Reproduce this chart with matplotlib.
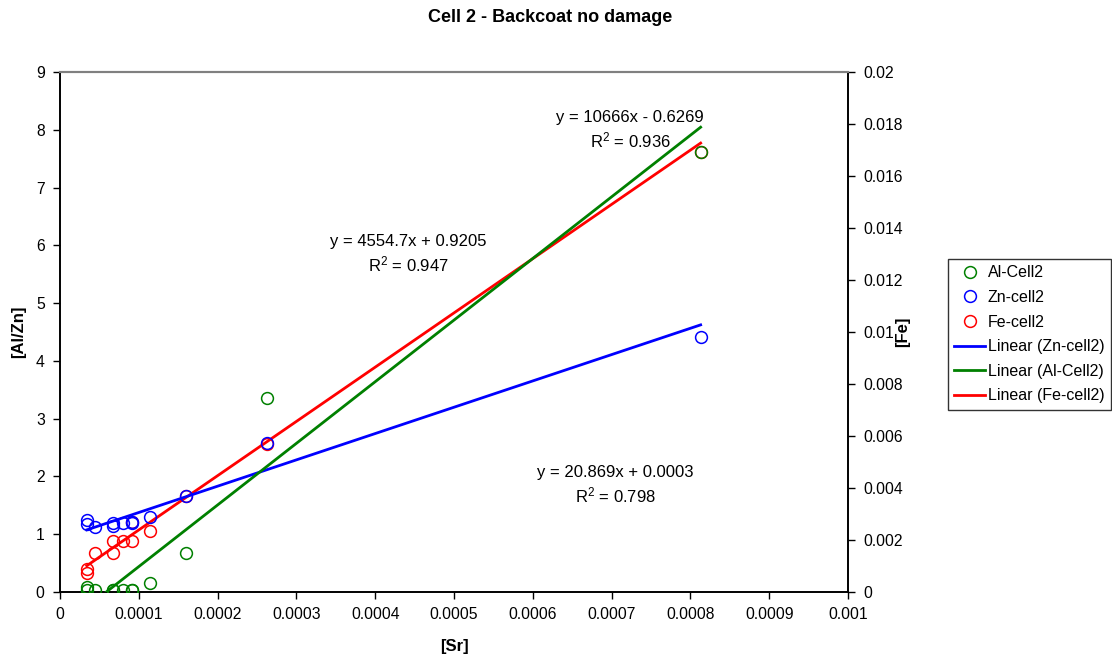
import numpy as np
import matplotlib
matplotlib.use("Agg")
import matplotlib.pyplot as plt
from matplotlib.lines import Line2D
from matplotlib.ticker import FuncFormatter, MultipleLocator

plt.rcParams['font.family'] = ['Liberation Sans', 'DejaVu Sans']
plt.rcParams['mathtext.default'] = 'regular'

# ---- data ----
sr = [3.4e-5, 3.4e-5, 4.5e-5, 6.7e-5, 6.7e-5, 8.0e-5, 9.1e-5, 9.1e-5,
      1.14e-4, 1.6e-4, 2.63e-4, 8.13e-4]
al = [0.09, 0.04, 0.04, 0.04, 0.04, 0.04, 0.04, 0.04, 0.16, 0.67, 3.36, 7.62]
zn = [1.25, 1.18, 1.13, 1.19, 1.15, 1.19, 1.22, 1.20, 1.30, 1.67, 2.58, 4.41]
fe = [0.00073, 0.00088, 0.0015, 0.0015, 0.00196, 0.00196, 0.00196, 0.00269,
      0.00235, 0.0037, 0.0057, 0.01693]

fit_al = (10666, -0.6269)
fit_zn = (4554.7, 0.9205)
fit_fe = (20.869, 0.0003)

lab_al = "y = 10666x - 0.6269\nR$^2$ = 0.936"
lab_zn = "y = 4554.7x + 0.9205\nR$^2$ = 0.947"
lab_fe = "y = 20.869x + 0.0003\nR$^2$ = 0.798"

title = "Cell 2 - Backcoat no damage"

# ---- figure ----
fig = plt.figure(figsize=(11.12, 6.56), dpi=100)
ax = fig.add_axes([60/1112, 1-592/656, (848-60)/1112, (592-72)/656])
ax2 = ax.twinx()
ax.set_zorder(ax2.get_zorder() + 1)
ax.patch.set_visible(False)

xs = np.array([min(sr), max(sr)])
ms = 8.5
mew = 1.1
lw = 2.0

ax2.plot(sr, fe, 'o', mfc='none', mec='#ff0000', ms=ms, mew=mew, zorder=3)
ax2.plot(xs, fit_fe[0]*xs + fit_fe[1], color='#ff0000', lw=lw, zorder=4)

ax.plot(sr, al, 'o', mfc='none', mec='#008000', ms=ms, mew=mew, zorder=3)
ax.plot(sr, zn, 'o', mfc='none', mec='#0000ff', ms=ms, mew=mew, zorder=3)
ax.plot(xs, fit_zn[0]*xs + fit_zn[1], color='#0000ff', lw=lw, zorder=4)
ax.plot(xs, fit_al[0]*xs + fit_al[1], color='#008000', lw=lw, zorder=4)

ax.set_xlim(0, 0.001)
ax.set_ylim(0, 9)
ax2.set_ylim(0, 0.02)
ax.xaxis.set_major_locator(MultipleLocator(0.0001))
ax.yaxis.set_major_locator(MultipleLocator(1))
ax2.yaxis.set_major_locator(MultipleLocator(0.002))
fmt = FuncFormatter(lambda v, p: '%g' % round(v, 6))
ax.xaxis.set_major_formatter(fmt)
ax2.yaxis.set_major_formatter(fmt)

for a in (ax, ax2):
    a.tick_params(direction='out', length=5, width=1, labelsize=11.3, color='black', pad=6)
    a.spines['top'].set_color('#808080')
    a.spines['top'].set_linewidth(1.5)
    for s in ('left', 'bottom', 'right'):
        a.spines[s].set_color('black')
        a.spines[s].set_linewidth(1.2)

ax.set_xlabel('[Sr]', fontsize=12, fontweight='bold', labelpad=12)
ax.set_ylabel('[Al/Zn]', fontsize=12, fontweight='bold', va='center')
ax.yaxis.set_label_coords((19-60)/788, 0.5)
ax2.set_ylabel('[Fe]', fontsize=12, fontweight='bold', va='center')
ax2.yaxis.set_label_coords((903-60)/788, 0.5)

fig.text(550/1112, 1-18/656, title, ha='center', va='center', fontsize=13, fontweight='bold')

def ann(px, py, s):
    fig.text(px/1112, 1-py/656, s, ha='center', va='center', fontsize=12, linespacing=1.3)
ann(630, 130, lab_al)
ann(408, 254, lab_zn)
ann(615, 485, lab_fe)

handles = [
    Line2D([], [], ls='none', marker='o', mfc='none', mec='#008000', ms=ms, mew=mew),
    Line2D([], [], ls='none', marker='o', mfc='none', mec='#0000ff', ms=ms, mew=mew),
    Line2D([], [], ls='none', marker='o', mfc='none', mec='#ff0000', ms=ms, mew=mew),
    Line2D([], [], color='#0000ff', lw=lw),
    Line2D([], [], color='#008000', lw=lw),
    Line2D([], [], color='#ff0000', lw=lw),
]
labels = ['Al-Cell2', 'Zn-cell2', 'Fe-cell2', 'Linear (Zn-cell2)',
          'Linear (Al-Cell2)', 'Linear (Fe-cell2)']
leg = fig.legend(handles, labels, loc='upper left', bbox_to_anchor=(948/1112, 1-259/656),
                 fontsize=11.5, frameon=True, fancybox=False, edgecolor='black',
                 handlelength=1.9, handletextpad=0.2, borderpad=0.4, labelspacing=0.6,
                 borderaxespad=0)
leg.get_frame().set_linewidth(1.0)

fig.savefig('out.png', dpi=100)
